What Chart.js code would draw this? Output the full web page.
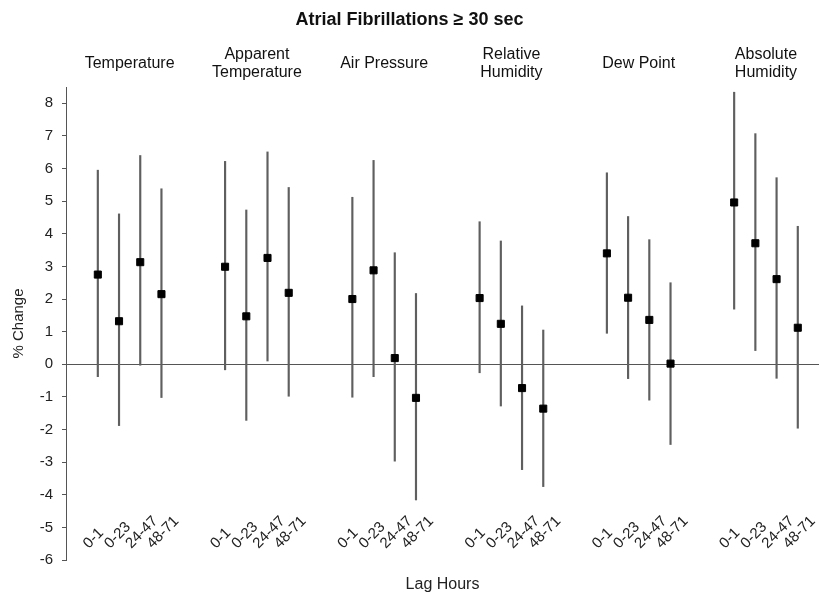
<!DOCTYPE html>
<html>
<head>
<meta charset="utf-8">
<title>Atrial Fibrillations ≥ 30 sec</title>
<script src="https://cdn.jsdelivr.net/npm/chart.js@4.4.1/dist/chart.umd.min.js"></script>
<style>
  html, body { margin: 0; padding: 0; background: #fff; }
  #wrap { width: 819px; height: 597px; }
</style>
</head>
<body>
<div id="wrap"><canvas id="afChart"></canvas></div>
<script>
const groupNames = [
    ['Temperature'],
    ['Apparent', 'Temperature'],
    ['Air Pressure'],
    ['Relative', 'Humidity'],
    ['Dew Point'],
    ['Absolute', 'Humidity']
];
const lagLabels = ['0-1', '0-23', '24-47', '48-71'];
const yTicks = [-6, -5, -4, -3, -2, -1, 0, 1, 2, 3, 4, 5, 6, 7, 8];

// % change per exposure (rows) and lag (columns)
const pctChange = [
    [2.75, 1.32, 3.13, 2.15],
    [2.99, 1.47, 3.26, 2.19],
    [2.00, 2.88, 0.19, -1.03],
    [2.03, 1.24, -0.73, -1.36],
    [3.40, 2.04, 1.36, 0.02],
    [4.96, 3.71, 2.61, 1.12]
];
const ciLow = [
    [-0.38, -1.88, -0.03, -1.02],
    [-0.17, -1.72, 0.10, -0.98],
    [-1.01, -0.38, -2.97, -4.16],
    [-0.26, -1.28, -3.23, -3.75],
    [0.95, -0.44, -1.10, -2.46],
    [1.69, 0.42, -0.43, -1.96]
];
const ciHigh = [
    [5.95, 4.61, 6.40, 5.38],
    [6.22, 4.73, 6.51, 5.42],
    [5.12, 6.25, 3.42, 2.17],
    [4.37, 3.78, 1.79, 1.05],
    [5.87, 4.53, 3.82, 2.50],
    [8.34, 7.07, 5.72, 4.23]
];

const slotsPerGroup = 6; // 4 lags + 2 empty slots between exposures
const points = [];
const errorBars = [];
groupNames.forEach((name, g) => {
    lagLabels.forEach((lag, k) => {
        const slot = g * slotsPerGroup + k;
        points.push({ x: slot, y: pctChange[g][k] });
        errorBars.push({ x: slot, y: [ciLow[g][k], ciHigh[g][k]] });
    });
});

Chart.defaults.font.family = '"Liberation Sans", Arial, sans-serif';
Chart.defaults.color = '#222';

// lag labels sit inside the plot, rotated, just above the -6 line
const lagTicks = {
    id: 'lagTicks',
    afterDraw(chart) {
        const { ctx, chartArea, scales } = chart;
        ctx.save();
        ctx.font = '15px "Liberation Sans", Arial, sans-serif';
        ctx.fillStyle = '#222';
        ctx.textAlign = 'left';
        ctx.textBaseline = 'middle';
        groupNames.forEach((name, g) => {
            lagLabels.forEach((lag, k) => {
                const x = scales.x.getPixelForValue(g * slotsPerGroup + k) - 12;
                const y = chartArea.bottom - 14;
                ctx.save();
                ctx.translate(x, y);
                ctx.rotate(-Math.PI / 4);
                ctx.fillText(lag, 0, 0);
                ctx.restore();
            });
        });
        ctx.restore();
    }
};

new Chart(document.getElementById('afChart'), {
    type: 'bar',
    data: {
        datasets: [{
            type: 'scatter',
            data: points,
            pointStyle: 'rect',
            pointRadius: 5,
            pointHoverRadius: 5,
            backgroundColor: '#000',
            borderColor: '#000',
            borderWidth: 1,
            showLine: false,
            xAxisID: 'x',
            yAxisID: 'y'
        }, {
            type: 'bar',
            data: errorBars,
            backgroundColor: '#5f5f5f',
            borderWidth: 0,
            barThickness: 1.5,
            xAxisID: 'x',
            yAxisID: 'y'
        }]
    },
    options: {
        responsive: true,
        maintainAspectRatio: false,
        animation: false,
        events: [],
        layout: { padding: 0, autoPadding: false },
        plugins: {
            legend: { display: false },
            tooltip: { enabled: false },
            title: {
                display: true,
                text: 'Atrial Fibrillations ≥ 30 sec',
                color: '#111',
                font: { size: 18, weight: 'bold' },
                padding: { top: 9, bottom: 0 }
            }
        },
        scales: {
            x: {
                type: 'linear',
                position: 'bottom',
                min: -1.5,
                max: 34,
                offset: false,
                grid: { display: false, drawTicks: false },
                border: { display: false },
                ticks: { display: false },
                title: {
                    display: true,
                    text: 'Lag Hours',
                    font: { size: 16 },
                    padding: { top: 0, bottom: 3 }
                },
                afterFit(scale) { scale.height = 37; }
            },
            x2: {
                type: 'linear',
                position: 'top',
                min: -1.5,
                max: 34,
                offset: false,
                grid: { display: false, drawTicks: false },
                border: { display: false },
                afterBuildTicks(scale) {
                    scale.ticks = groupNames.map((name, g) => ({ value: g * slotsPerGroup + 1.5 }));
                },
                ticks: {
                    autoSkip: false,
                    minRotation: 0,
                    maxRotation: 0,
                    crossAlign: 'center',
                    padding: 14,
                    color: '#111',
                    font: { size: 16, lineHeight: 1.15 },
                    callback: (value, index) => groupNames[index]
                },
                afterFit(scale) { scale.height = 56.4; }
            },
            y: {
                type: 'linear',
                min: -6,
                max: 8.5,
                afterBuildTicks(scale) {
                    scale.ticks = yTicks.map(v => ({ value: v }));
                },
                ticks: { autoSkip: false, padding: 9, font: { size: 15 } },
                grid: {
                    color: ctx => (ctx.tick && ctx.tick.value === 0 ? '#555' : 'rgba(0,0,0,0)'),
                    tickColor: '#555',
                    tickLength: 4,
                    lineWidth: 1
                },
                border: { color: '#555', width: 1 },
                title: {
                    display: true,
                    text: '% Change',
                    font: { size: 15 },
                    padding: { top: 10, bottom: 0 }
                },
                afterFit(scale) { scale.width = 66; }
            }
        }
    },
    plugins: [lagTicks]
});
</script>
</body>
</html>
